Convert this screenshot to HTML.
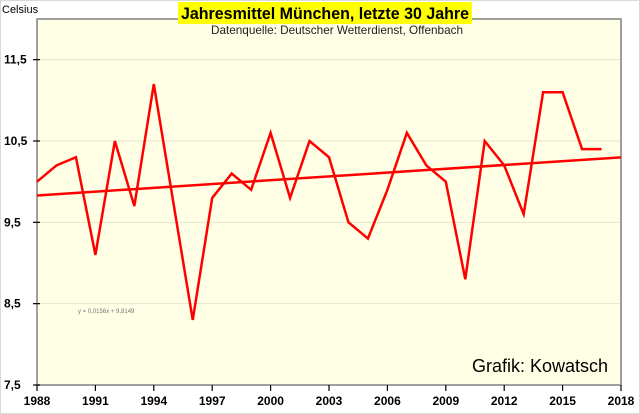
<!DOCTYPE html>
<html><head><meta charset="utf-8"><style>
html,body{margin:0;padding:0;background:#fff;}
svg{display:block;font-family:"Liberation Sans",Arial,sans-serif;}
</style></head><body>
<svg id="chart" width="640" height="414">
<rect x="0.5" y="0.5" width="639" height="413" fill="#fff" stroke="#d9d9d9"/>
<rect x="37" y="19" width="584" height="366" fill="#ffffe5" stroke="#808080" stroke-width="1.5"/>
<text x="2" y="13" font-size="11" fill="#000">Celsius</text>
<rect x="178" y="2" width="294" height="22" fill="#ffff00"/>
<text x="181" y="19" font-size="17" font-weight="bold" textLength="288" lengthAdjust="spacingAndGlyphs">Jahresmittel München, letzte 30 Jahre</text>
<text x="211" y="34" font-size="12" textLength="252" lengthAdjust="spacingAndGlyphs" fill="#222">Datenquelle: Deutscher Wetterdienst, Offenbach</text>
<text x="608" y="372" font-size="18" text-anchor="end">Grafik: Kowatsch</text>
<text x="78" y="313" font-size="6" fill="#777">y = 0,0156x + 9,8149</text>
<g id="grid"></g><g id="axes"></g><g id="series"></g>
</svg>
<script>
const years=[1988,1989,1990,1991,1992,1993,1994,1995,1996,1997,1998,1999,2000,2001,2002,2003,2004,2005,2006,2007,2008,2009,2010,2011,2012,2013,2014,2015,2016,2017];
const temps=[10.0,10.2,10.3,9.1,10.5,9.7,11.2,9.75,8.3,9.8,10.1,9.9,10.6,9.8,10.5,10.3,9.5,9.3,9.9,10.6,10.2,10.0,8.8,10.5,10.2,9.6,11.1,11.1,10.4,10.4];
const yTicks=[7.5,8.5,9.5,10.5,11.5];
const xTicks=[1988,1991,1994,1997,2000,2003,2006,2009,2012,2015,2018];
const trendSlope=0.0156, trendIntercept=9.8149;
const NS="http://www.w3.org/2000/svg";
const X=v=>37+(v-1988)*(584/30);
const Y=v=>385-(v-7.5)*(366/4.5);
function mk(tag,attrs,parent,txt){const e=document.createElementNS(NS,tag);for(const k in attrs)e.setAttribute(k,attrs[k]);if(txt!=null)e.textContent=txt;document.getElementById(parent).appendChild(e);return e;}
yTicks.forEach(t=>{
  if(t>7.5){const g=mk('line',{x1:38,x2:620,y1:Y(t),y2:Y(t),stroke:'#e6e6cc','stroke-width':1},'grid');
  
  }
  const tk=mk('line',{x1:33,x2:40,y1:Y(t),y2:Y(t),stroke:'#000','stroke-width':1.2},'axes');
  
  
  const l=mk('text',{x:4,y:Y(t)+4,'font-size':12,'font-weight':'bold'},'axes',String(t).replace('.',','));
  
  
});
xTicks.forEach(t=>{
  const tk=mk('line',{x1:X(t),x2:X(t),y1:385,y2:391,stroke:'#000','stroke-width':1.2},'axes');
  
  
  const l=mk('text',{x:X(t),y:405,'font-size':12,'font-weight':'bold','text-anchor':'middle'},'axes',t);
  
  
});
const line=mk('polyline',{points:years.map((y,i)=>X(y)+','+Y(temps[i])).join(' '),fill:'none',stroke:'#ff0000','stroke-width':2.5,'stroke-linejoin':'miter'},'series');


const tr=v=>trendIntercept+trendSlope*(v-1987);
const trend=mk('line',{x1:X(1988),y1:Y(tr(1988)),x2:X(2018),y2:Y(tr(2018)),stroke:'#ff0000','stroke-width':2.5},'series');


</script>
</body></html>
